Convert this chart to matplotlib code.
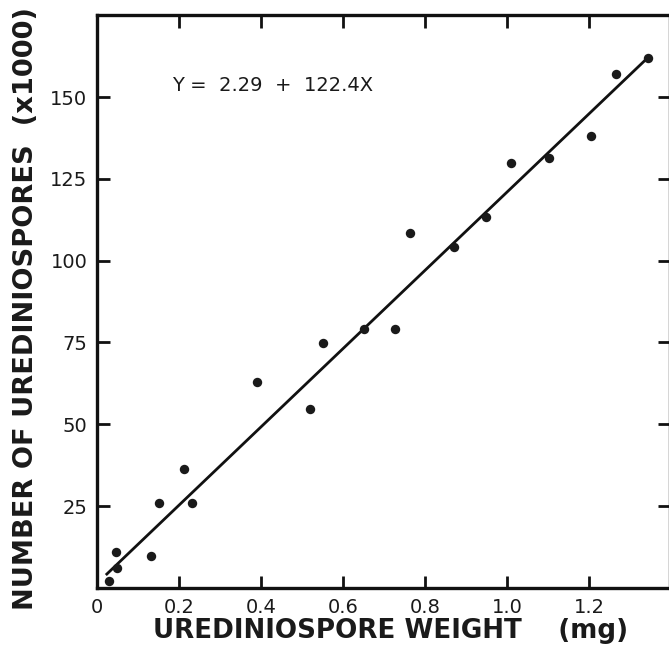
import matplotlib
matplotlib.use("Agg")
import matplotlib.pyplot as plt
import numpy as np

# Data
weight_mg = [0.030, 0.046, 0.048, 0.132, 0.152, 0.213, 0.231, 0.390, 0.520, 0.552,
             0.652, 0.727, 0.763, 0.871, 0.949, 1.009, 1.103, 1.204, 1.266, 1.343]
spores_k = [2.2, 10.8, 6.1, 9.6, 26.0, 36.3, 25.8, 63.0, 54.6, 74.7,
            79.0, 79.1, 108.6, 104.3, 113.2, 130.0, 131.4, 138.2, 157.0, 162.0]
# regression line as drawn in the figure (endpoints)
fit_x = [0.024, 1.343]
fit_y = [4.2, 162.0]
equation = "Y =  2.29  +  122.4X"
x_ticks = [0, 0.2, 0.4, 0.6, 0.8, 1.0, 1.2]
x_tick_labels = ["0", "0.2", "0.4", "0.6", "0.8", "1.0", "1.2"]
y_ticks = [25, 50, 75, 100, 125, 150]
y_tick_labels = ["25", "50", "75", "100", "125", "150"]

W, H = 669, 649
fig = plt.figure(figsize=(W / 100, H / 100), dpi=100)
fig.patch.set_facecolor("white")
left, right, bottom, top = 97, 669.5, 587.8, 15
ax = fig.add_axes([left / W, (H - bottom) / H, (right - left) / W, (bottom - top) / H])

ax.scatter(weight_mg, spores_k, s=46, color="#1a1a1a", zorder=3, linewidths=0)
ax.plot(fit_x, fit_y, color="#111111", lw=2.0, zorder=2)

ax.set_xlim(0, (right - left) / 410.0)
ax.set_ylim(0, 175.1)

for s in ax.spines.values():
    s.set_linewidth(2.4)
    s.set_color("#111111")

ax.set_xticks(x_ticks)
ax.set_xticklabels(x_tick_labels)
ax.set_yticks(y_ticks)
ax.set_yticklabels(y_tick_labels)
ax.tick_params(axis="both", direction="in", length=9, width=2, color="#111111",
               top=True, right=True, labelsize=14, labelcolor="#1a1a1a")
ax.tick_params(axis="x", pad=7)
ax.tick_params(axis="y", pad=7)
for lab in ax.get_xticklabels() + ax.get_yticklabels():
    lab.set_family("DejaVu Sans")

ax.text(0.182, 153.4, equation, fontsize=14, family="DejaVu Sans",
        color="#1a1a1a", va="center", ha="left")

fig.text(26 / W, 1 - 309 / H, "NUMBER OF UREDINIOSPORES  (x1000)", rotation=90,
         fontsize=19.6, fontweight="bold", family="DejaVu Sans", color="#1a1a1a",
         ha="center", va="center")
fig.text(153 / W, 1 - 631 / H, "UREDINIOSPORE WEIGHT    (mg)",
         fontsize=18.8, fontweight="bold", family="DejaVu Sans", color="#1a1a1a",
         ha="left", va="center")

fig.savefig("out.png", dpi=100, facecolor="white")
